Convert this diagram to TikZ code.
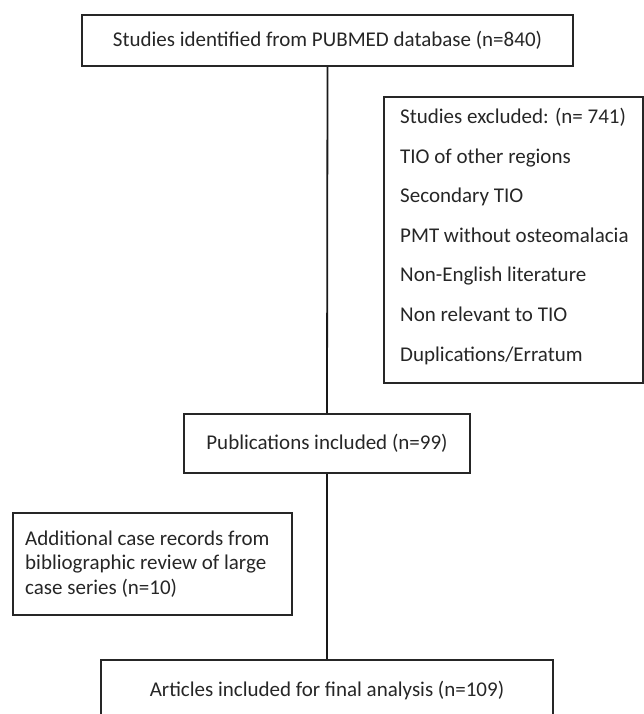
\documentclass[tikz,border=0pt]{standalone}
\usepackage{fontspec}
\setmainfont{Carlito}
\begin{document}
\begin{tikzpicture}[x=1pt,y=-1pt,
  box/.style={draw=black!85, line width=1.8pt, rectangle, inner sep=0pt, text=black!85},
  conn/.style={draw=black!90, line width=1.8pt},
  txt/.style={font=\fontsize{21}{24.5}\selectfont}]
\useasboundingbox (0,0) rectangle (644,714);
\node[box, txt, minimum width=491, minimum height=51] (top) at (327.5,40.5) {Studies identified from PUBMED database (n=840)};
\node[box, minimum width=259, minimum height=286] (excl) at (513.5,240) {};
\node[text=black!85, anchor=north west, align=left, inner sep=0pt, font=\fontsize{21}{39.6}\selectfont] (excltext) at (400,108)
 {Studies excluded: (n= 741)\\TIO of other regions\\Secondary TIO\\PMT without osteomalacia\\Non-English literature\\Non relevant to TIO\\Duplications/Erratum};
\node[box, txt, minimum width=286, minimum height=59] (pub) at (327,443.5) {Publications included (n=99)};
\node[box, minimum width=279, minimum height=102] (add) at (152.5,564) {};
\node[txt, text=black!85, anchor=west, align=left, inner sep=0pt] (addtext) at (25,564)
 {Additional case records from\\bibliographic review of large\\case series (n=10)};
\node[box, txt, minimum width=452, minimum height=62, anchor=north] (final) at (327,659) {Articles included for final analysis (n=109)};
\draw[conn] (top.south) -- (pub.north);
\draw[conn] (pub.south) -- (final.north);
\end{tikzpicture}
\end{document}
